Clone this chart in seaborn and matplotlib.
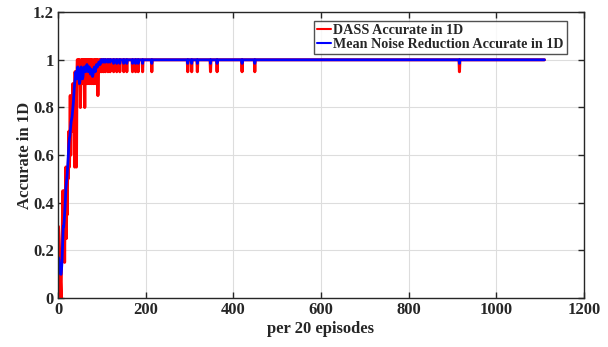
import numpy as np
import pandas as pd
import matplotlib.pyplot as plt
import seaborn as sns

# red (DASS) accuracy, first 120 points (one per 20 episodes)
dass_early = [
    0.30, 0.25, 0.15, 0.20, 0.10, 0.05, 0.00, 0.20, 0.15,
    0.30, 0.45, 0.20, 0.35, 0.45, 0.15, 0.40, 0.30, 0.55, 0.25,
    0.45, 0.35, 0.55, 0.50, 0.60, 0.70, 0.55, 0.65, 0.85, 0.60,
    0.75, 0.70, 0.80, 0.75, 0.90, 0.70, 0.85, 0.90, 0.55, 0.95,
    0.85, 0.90, 0.55, 0.90, 1.00, 1.00, 0.90, 1.00, 0.95, 1.00,
    0.95, 0.80, 0.90, 1.00, 0.95, 1.00, 0.90, 1.00, 1.00, 0.95,
    1.00, 0.80, 1.00, 0.95, 1.00, 0.90, 1.00, 1.00, 0.90, 1.00,
    0.95, 1.00, 0.90, 1.00, 1.00, 0.95, 1.00, 0.90, 1.00, 1.00,
    0.95, 0.90, 1.00, 1.00, 0.95, 1.00, 0.90, 1.00, 1.00, 0.95,
    1.00, 0.85, 0.95, 1.00, 1.00, 1.00, 0.95, 1.00, 1.00, 1.00,
    0.95, 1.00, 1.00, 1.00, 0.95, 1.00, 1.00, 1.00, 0.95, 1.00,
    1.00, 1.00, 1.00, 1.00, 0.95, 1.00, 1.00, 1.00, 1.00, 0.95, 1.00,
]

# blue (mean noise reduction) accuracy, first 120 points
mnr_early = [
    0.17, 0.16, 0.14, 0.12, 0.11, 0.10, 0.10, 0.12, 0.15,
    0.20, 0.25, 0.30, 0.30, 0.32, 0.35, 0.38, 0.42, 0.46, 0.48,
    0.50, 0.52, 0.55, 0.58, 0.62, 0.65, 0.67, 0.68, 0.70, 0.72,
    0.74, 0.75, 0.76, 0.78, 0.80, 0.82, 0.85, 0.88, 0.90, 0.92,
    0.94, 0.95, 0.93, 0.92, 0.95, 0.97, 0.96, 0.94, 0.92, 0.90,
    0.91, 0.94, 0.96, 0.97, 0.95, 0.93, 0.92, 0.93, 0.95, 0.96,
    0.97, 0.97, 0.96, 0.95, 0.96, 0.97, 0.98, 0.97, 0.96, 0.95,
    0.96, 0.97, 0.96, 0.95, 0.94, 0.95, 0.96, 0.95, 0.94, 0.93,
    0.94, 0.95, 0.96, 0.97, 0.96, 0.95, 0.96, 0.97, 0.98, 0.97,
    0.97, 0.98, 0.98, 0.99, 0.99, 0.99, 0.98, 0.99, 1.00, 1.00,
    0.99, 1.00, 1.00, 1.00, 0.99, 1.00, 1.00, 1.00, 0.99, 1.00,
    1.00, 1.00, 1.00, 1.00, 0.99, 1.00, 1.00, 1.00, 1.00, 0.99, 1.00,
]

# later isolated dips (index, DASS value, mean-noise-reduction value)
dip_index = [127, 134, 141, 150, 157, 170, 177, 183, 193, 214,
             296, 305, 318, 348, 363, 420, 449, 916]
dip_dass = [0.95] * len(dip_index)
dip_mnr = [0.985] * len(dip_index)

n_points = 1110
full_acc = 1.0

dass = np.full(n_points, full_acc)
mnr = np.full(n_points, full_acc)
dass[:len(dass_early)] = dass_early
mnr[:len(mnr_early)] = mnr_early
for i, d, m in zip(dip_index, dip_dass, dip_mnr):
    dass[i - 1] = d
    mnr[i - 1] = m

df = pd.DataFrame({"step": np.arange(1, n_points + 1), "dass": dass, "mnr": mnr})

sns.set_style("white")
plt.rcParams["font.family"] = ["Liberation Serif", "DejaVu Serif"]
plt.rcParams["font.weight"] = "bold"

fig = plt.figure(figsize=(6.08, 3.47), dpi=100)
ax = fig.add_axes([0.0954, 0.141, 0.865, 0.824])

sns.lineplot(data=df, x="step", y="dass", color="#ff0000", linewidth=2.2,
             label="DASS Accurate in 1D", ax=ax)
sns.lineplot(data=df, x="step", y="mnr", color="#0000ff", linewidth=2,
             label="Mean Noise Reduction Accurate in 1D", ax=ax)

ax.set_xlim(0, 1200)
ax.set_ylim(0, 1.2)
ax.set_xticks(range(0, 1201, 200))
ax.set_yticks([0, 0.2, 0.4, 0.6, 0.8, 1, 1.2])
ax.set_yticklabels(["0", "0.2", "0.4", "0.6", "0.8", "1", "1.2"])
ax.grid(True, color="#dddddd", linewidth=0.8)
ax.set_axisbelow(True)
ax.tick_params(direction="in", length=4, width=1, labelsize=12, pad=3,
               top=True, right=True, bottom=True, left=True, colors="#262626")
for lab in ax.get_xticklabels() + ax.get_yticklabels():
    lab.set_fontweight("bold")
for s in ax.spines.values():
    s.set_color("#262626")
    s.set_linewidth(1)

ax.set_xlabel("per 20 episodes", fontsize=12, fontweight="bold", labelpad=2)
ax.set_ylabel("Accurate in 1D", fontsize=12, fontweight="bold", labelpad=0)

leg = ax.legend(loc="upper right", bbox_to_anchor=(0.967, 0.97), fontsize=10.2,
                frameon=True, fancybox=False, handlelength=1.0, handletextpad=0.15,
                borderpad=0.2, labelspacing=0.1, borderaxespad=0)
leg.get_frame().set_edgecolor("#262626")
leg.get_frame().set_linewidth(1)
for t in leg.get_texts():
    t.set_fontweight("bold")
for h in leg.get_lines():
    h.set_linewidth(1.5)

fig.savefig("out.png", dpi=100)
